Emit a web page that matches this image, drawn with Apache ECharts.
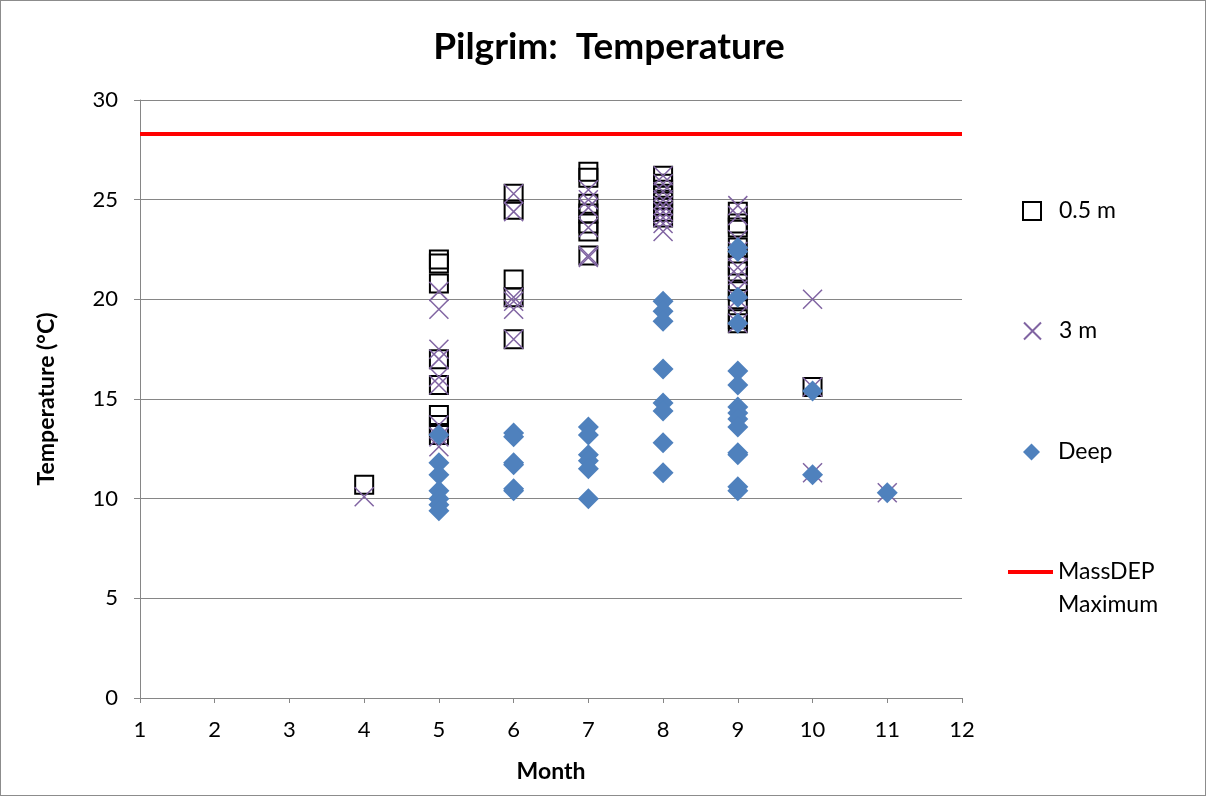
<!DOCTYPE html>
<html>
<head>
<meta charset="utf-8">
<script src="https://cdn.jsdelivr.net/npm/echarts@6/dist/echarts.min.js"></script>
<style>
html,body{margin:0;padding:0;background:#fff;}
#wrap{width:1206px;height:796px;box-sizing:border-box;border:1px solid #8c8c8c;position:relative;}
#chart{position:absolute;left:-1px;top:-1px;width:1206px;height:796px;}
</style>
</head>
<body>
<div id="wrap"><div id="chart"></div></div>
<script>
// Data
const shallowMonth = [4, 5,5,5,5,5,5,5,5, 6,6,6,6,6, 7,7,7,7,7,7,7, 8,8,8,8,8,8,8,8, 9,9,9,9,9,9,9,9,9,9, 10];
const shallowTemp  = [10.7, 22.0,21.8,20.8,17.0,15.7,14.2,13.7,13.2, 25.3,24.5,21.0,20.1,18.0, 26.4,26.1,24.8,24.3,23.8,23.4,22.2, 26.2,25.8,25.5,25.2,25.0,24.7,24.4,24.1, 24.4,23.8,23.6,22.6,21.7,21.4,20.4,20.0,19.0,18.8, 15.6];

const midMonth = [4, 5,5,5,5,5,5,5,5,5, 6,6,6,6,6,6, 7,7,7,7,7,7, 8,8,8,8,8,8,8,8,8, 9,9,9,9,9,9,9,9,9,9, 10,10,10, 11];
const midTemp  = [10.1, 20.4,19.5,17.5,17.0,16.1,15.7,13.7,13.1,12.6, 25.3,24.4,20.1,19.9,19.5,18.0, 25.5,25.0,24.6,23.6,22.1,22.2, 26.2,25.8,25.4,25.0,24.7,24.4,24.1,23.8,23.4, 24.7,24.2,23.0,22.4,21.6,21.2,20.5,20.0,19.2,18.8, 20.0,15.6,11.3, 10.3];

const deepMonth = [5,5,5,5,5,5,5, 6,6,6,6,6,6, 7,7,7,7,7,7, 8,8,8,8,8,8,8,8, 9,9,9,9,9,9,9,9,9,9,9,9,9,9, 10,10, 11];
const deepTemp  = [13.2,11.8,11.2,10.4,10.0,9.7,9.4, 13.3,13.1,11.8,11.7,10.5,10.4, 13.6,13.2,12.2,11.9,11.5,10.0, 19.9,19.4,18.9,16.5,14.8,14.4,12.8,11.3, 22.6,22.4,20.1,18.8,16.4,15.7,14.6,14.3,14.0,13.6,12.3,12.2,10.6,10.4, 15.4,11.2, 10.3];

const maxMonth = [1, 12];
const maxTemp  = [28.3, 28.3];

const seriesNames = ['0.5 m', '3 m', 'Deep', 'MassDEP Maximum'];
const maxLegendLines = ['MassDEP', 'Maximum'];
const titleText = 'Pilgrim:  Temperature';
const yName = 'Temperature (°C)';
const xName = 'Month';

const zip = (a, b) => a.map((v, i) => [v, b[i]]);
const FONT = 'Lato';
const XPATH = 'path://M0,0L10,10M10,0L0,10';

const chart = echarts.init(document.getElementById('chart'));
const legendText = (pad) => ({fontFamily: FONT, fontSize: 23, color: '#000', lineHeight: 26, padding: [0,0,0,pad]});
chart.setOption({
  animation: false,
  backgroundColor: 'transparent',
  title: {
    text: titleText, left: 604, textAlign: 'center', top: 24,
    textStyle: {fontFamily: FONT, fontSize: 37, fontWeight: 'bold', color: '#000'}
  },
  grid: {left: 140, right: 244, top: 100, bottom: 98, containLabel: false},
  xAxis: {
    type: 'value', min: 1, max: 12, interval: 1,
    name: xName, nameLocation: 'middle', nameGap: 62,
    nameTextStyle: {fontFamily: FONT, fontSize: 23, fontWeight: 'bold', color: '#000'},
    axisLine: {show: true, onZero: false, lineStyle: {color: '#868686', width: 1}},
    axisTick: {show: true, inside: false, length: 5, lineStyle: {color: '#868686'}},
    axisLabel: {fontFamily: FONT, fontSize: 22, color: '#000', margin: 21},
    splitLine: {show: false}
  },
  yAxis: {
    type: 'value', min: 0, max: 30, interval: 5,
    name: yName, nameLocation: 'middle', nameGap: 82, nameRotate: 90,
    nameTextStyle: {fontFamily: FONT, fontSize: 23, fontWeight: 'bold', color: '#000'},
    axisLine: {show: true, lineStyle: {color: '#868686', width: 1}},
    axisTick: {show: true, inside: false, length: 6, lineStyle: {color: '#868686'}},
    axisLabel: {fontFamily: FONT, fontSize: 22, color: '#000', margin: 22},
    splitLine: {show: true, lineStyle: {color: '#868686', width: 1}}
  },
  legend: [
    {data: [seriesNames[0]], orient: 'vertical', selectedMode: false, padding: 0, left: 1022, top: 198, itemWidth: 18, itemHeight: 18, textStyle: legendText(13)},
    {data: [seriesNames[1]], orient: 'vertical', selectedMode: false, padding: 0, left: 1023, top: 318, itemWidth: 17, itemHeight: 17, textStyle: legendText(13)},
    {data: [seriesNames[2]], orient: 'vertical', selectedMode: false, padding: 0, left: 1023, top: 439, itemWidth: 17, itemHeight: 17, textStyle: legendText(13)},
    {data: [{name: seriesNames[3], icon: 'rect'}], orient: 'vertical', selectedMode: false, padding: 0, left: 1008, top: 559, itemWidth: 45, itemHeight: 4,
      formatter: () => maxLegendLines[0], textStyle: legendText(0)}
  ],
  graphic: [
    {type: 'text', left: 1058, top: 593, style: {text: maxLegendLines[1], font: '23px ' + FONT, fill: '#000'}}
  ],
  series: [
    {
      name: seriesNames[0], type: 'scatter', data: zip(shallowMonth, shallowTemp),
      symbol: 'rect', symbolSize: 18,
      itemStyle: {color: 'rgba(0,0,0,0)', borderColor: '#000', borderWidth: 2, opacity: 1}
    },
    {
      name: seriesNames[1], type: 'scatter', data: zip(midMonth, midTemp),
      symbol: XPATH, symbolSize: 19,
      itemStyle: {color: 'rgba(0,0,0,0)', borderColor: '#8064A2', borderWidth: 1.5, opacity: 1}
    },
    {
      name: seriesNames[2], type: 'scatter', data: zip(deepMonth, deepTemp),
      symbol: 'diamond', symbolSize: 21,
      itemStyle: {color: '#4F81BD', opacity: 1}
    },
    {
      name: seriesNames[3], type: 'line', data: zip(maxMonth, maxTemp),
      symbol: 'none', lineStyle: {color: '#FF0000', width: 4}, itemStyle: {color: '#FF0000'}
    }
  ]
});
</script>
</body>
</html>
